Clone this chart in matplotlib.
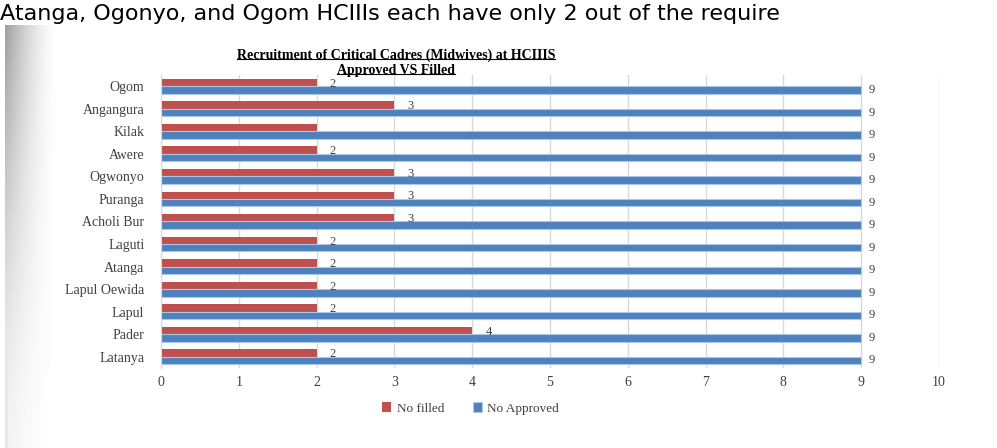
import numpy as np
import matplotlib
matplotlib.use("Agg")
import matplotlib.pyplot as plt

sites = ["Latanya", "Pader", "Lapul", "Lapul Oewida", "Atanga", "Laguti",
         "Acholi Bur", "Puranga", "Ogwonyo", "Awere", "Kilak", "Angangura", "Ogom"]
no_filled = [2, 4, 2, 2, 2, 2, 3, 3, 3, 2, 2, 3, 2]
no_approved = [9, 9, 9, 9, 9, 9, 9, 9, 9, 9, 9, 9, 9]
no_label = ["Kilak"]

red = "#C0504D"
blue = "#4F81BD"
grey = "#404040"
serif = ["Liberation Serif", "DejaVu Serif"]

fig = plt.figure(figsize=(9.97, 4.48), dpi=100)

# page shadow on the left, dark at the top and fading towards the bottom
shade = fig.add_axes([0, 0, 0.06, 0.945])
xs = np.linspace(0, 1, 60)
ys = np.linspace(1, 0, 200)
strength = 0.06 + 0.38 * ys[:, None] ** 1.5
img = 1 - strength * (1 - xs[None, :]) ** 1.6
img[:, :5] = 1.0
img[:, 5:8] = np.minimum(img[:, 5:8], 0.9)
shade.imshow(img, cmap="gray", vmin=0, vmax=1, aspect="auto", extent=[0, 1, 0, 1])
shade.axis("off")

# cut off line of body text above the chart
fig.text(0.0, 0.956, "Atanga, Ogonyo, and Ogom HCIIIs each have only 2 out of the require",
         fontsize=16, family="DejaVu Sans", va="baseline", ha="left", color="black")

ax = fig.add_axes([0.1615, 0.1786, 0.7803, 0.654])
y = np.arange(len(sites))
h = 0.33
ax.barh(y + h / 2, no_filled, height=h, color=red, label="No filled")
ax.barh(y - h / 2, no_approved, height=h, color=blue, edgecolor="#a8c8ec",
        linewidth=0.8, label="No Approved")

for i, site in enumerate(sites):
    if site not in no_label:
        ax.text(no_filled[i] + 0.17, y[i] + h / 3, str(no_filled[i]), fontsize=9,
                family=serif, color=grey, va="center", ha="left")
    ax.text(no_approved[i] + 0.09, y[i] - h / 2, str(no_approved[i]), fontsize=9,
            family=serif, color=grey, va="center", ha="left")

ax.set_xlim(0, 10)
ax.set_ylim(-0.5, len(sites) - 0.5)
ax.set_xticks(range(11))
ax.set_yticks(y)
ax.set_yticklabels(sites)
ax.grid(axis="x", color="#d9d9d9", linewidth=1)
ax.set_axisbelow(True)
for s in ["top", "right", "bottom"]:
    ax.spines[s].set_visible(False)
ax.spines["left"].set_color("#d9d9d9")
ax.tick_params(axis="y", length=0, pad=12, labelcolor=grey)
ax.tick_params(axis="x", length=0, pad=6, labelcolor=grey)
for lab in ax.get_xticklabels() + ax.get_yticklabels():
    lab.set_family(serif)
    lab.set_fontsize(10)

leg = fig.legend(loc="center", bbox_to_anchor=(0.472, 0.088), ncol=2, frameon=False,
                 handlelength=0.7, handleheight=0.7, columnspacing=2.2, handletextpad=0.4,
                 prop={"family": serif, "size": 9.5})
for t in leg.get_texts():
    t.set_color(grey)

t1 = fig.text(0.397, 0.877, "Recruitment of Critical Cadres (Midwives) at HCIIIS",
              fontsize=10, weight="bold", family=serif, ha="center", va="center")
t2 = fig.text(0.397, 0.843, "Approved VS Filled",
              fontsize=10, weight="bold", family=serif, ha="center", va="center")

# underline the title lines
fig.canvas.draw()
r = fig.canvas.get_renderer()
inv = fig.transFigure.inverted()
for t in (t1, t2):
    bb = t.get_window_extent(r)
    (x0, y0), (x1, _) = inv.transform([[bb.x0, bb.y0], [bb.x1, bb.y1]])
    fig.add_artist(plt.Line2D([x0, x1], [y0 + 0.006, y0 + 0.006], color="black", lw=0.8))

fig.savefig("out.png", dpi=100)
